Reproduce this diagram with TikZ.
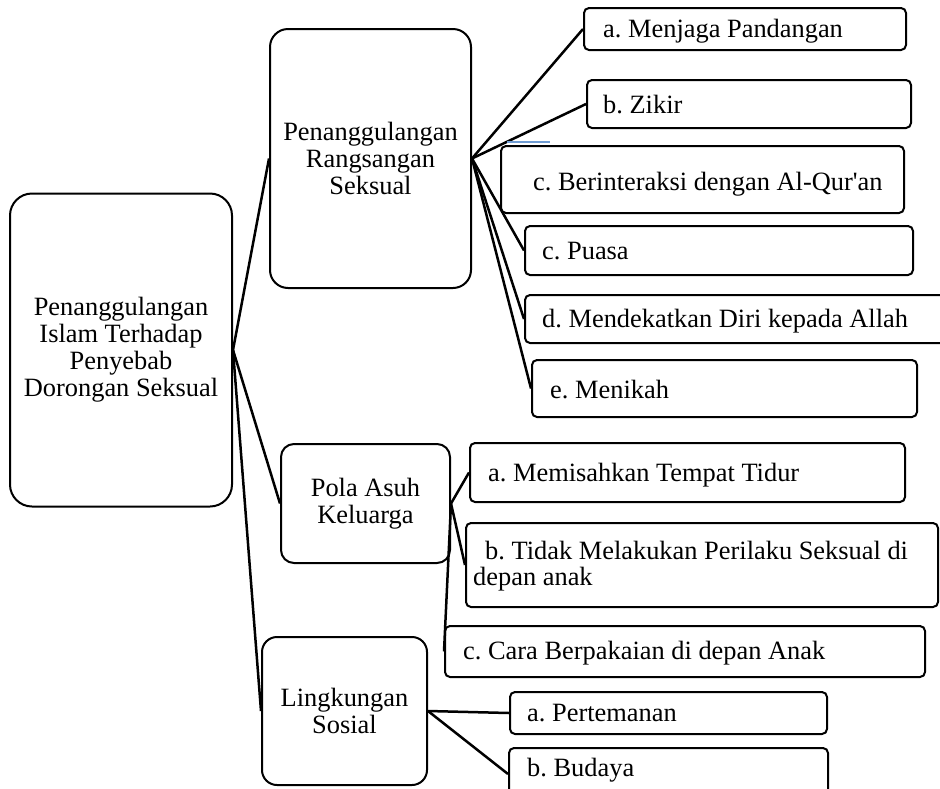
\documentclass[tikz,border=0pt]{standalone}
\usepackage{fontspec}
\setmainfont{Liberation Serif}[Ligatures=TeXOff]
\frenchspacing
\begin{document}
\begin{tikzpicture}[x=1pt,y=-1pt,
  box/.style={draw=black, line width=2pt, fill=white, inner sep=0pt},
  hub/.style={box, rounded corners=#1, align=center, font=\fontsize{26.4}{27}\selectfont},
  leaf/.style={box, rounded corners=5pt},
  txt/.style={anchor=base west, inner sep=0pt, font=\fontsize{26.4}{27}\selectfont},
  link/.style={draw=black, line width=2.5pt}
]
\useasboundingbox (0,0) rectangle (940,788);
\clip (0,0) rectangle (940,788);

% main topic and its three branches
\node[hub=22pt, minimum width=222pt, minimum height=313pt] (root) at (121,350)
  {Penanggulangan\\Islam Terhadap\\Penyebab\\Dorongan Seksual};
\node[hub=18pt, minimum width=201pt, minimum height=259pt] (prs) at (370.5,158.5)
  {Penanggulangan\\Rangsangan\\Seksual};
\node[hub=13pt, minimum width=169pt, minimum height=119pt] (pola) at (365.5,503.5)
  {Pola Asuh\\Keluarga};
\node[hub=15pt, minimum width=165pt, minimum height=148pt] (ling) at (344.5,711)
  {Lingkungan\\Sosial};

% items of the first branch
\node[leaf, minimum width=322pt, minimum height=42pt] (m1) at (745,29) {};
\node[leaf, minimum width=324pt, minimum height=48pt] (m2) at (749,104) {};
\node[leaf, minimum width=403pt, minimum height=67pt] (m3) at (702.5,179.5) {};
\node[leaf, minimum width=388pt, minimum height=49pt] (m4) at (719,250.5) {};
\node[leaf, minimum width=435pt, minimum height=48pt] (m5) at (742.5,319) {};
\node[leaf, minimum width=385pt, minimum height=57pt] (m6) at (724.5,388.5) {};

% items of the second branch
\node[leaf, minimum width=435pt, minimum height=59pt] (p1) at (687.5,472.5) {};
\node[leaf, minimum width=472pt, minimum height=84pt] (p2) at (702,565) {};
\node[leaf, minimum width=480pt, minimum height=51pt] (p3) at (685,651.5) {};

% items of the third branch
\node[leaf, minimum width=317pt, minimum height=42pt] (s1) at (668.5,713) {};
\node[leaf, minimum width=319pt, minimum height=52pt] (s2) at (668.5,774) {};

% item texts
\node[txt] (m1t) at (603,37) {a. Menjaga Pandangan};
\node[txt] (m2t) at (603,113) {b. Zikir};
\node[txt] (m3t) at (533,190) {c. Berinteraksi dengan Al-Qur'an};
\node[txt] (m4t) at (542,259) {c. Puasa};
\node[txt] (m5t) at (542,327) {d. Mendekatkan Diri kepada Allah};
\node[txt] (m6t) at (550,398) {e. Menikah};
\node[txt] (p1t) at (488,481) {a. Memisahkan Tempat Tidur};
\node[txt] (p2ta) at (485,559) {b. Tidak Melakukan Perilaku Seksual di};
\node[txt] (p2tb) at (473,585) {depan anak};
\node[txt] (p3t) at (463,659) {c. Cara Berpakaian di depan Anak};
\node[txt] (s1t) at (527,721) {a. Pertemanan};
\node[txt] (s2t) at (527,776) {b. Budaya};

% connectors
\draw[link] (root.east) -- (prs.west);
\draw[link] (root.east) -- (pola.west);
\draw[link] (root.east) -- (ling.west);
\foreach \n in {m1,m2,m4,m5,m6} \draw[link] (prs.east) -- (\n.west);
\foreach \n in {p1,p2,p3} \draw[link] (pola.east) -- (\n.west);
\foreach \n in {s1,s2} \draw[link] (ling.east) -- (\n.west);

% thin blue stroke above the third item
\draw[color={rgb,255:red,110;green,155;blue,210}, line width=1.2pt] (507,142) -- (550,142);
\end{tikzpicture}
\end{document}
